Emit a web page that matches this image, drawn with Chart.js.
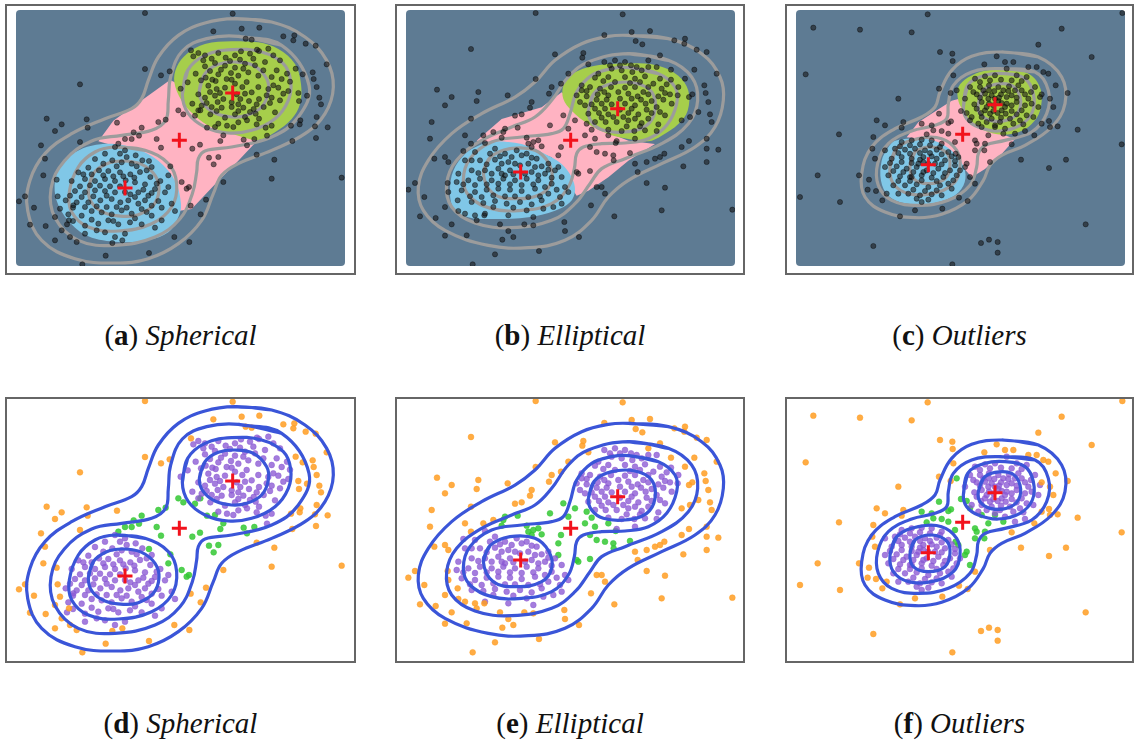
<!DOCTYPE html>
<html>
<head>
<meta charset="utf-8">
<script src="https://cdn.jsdelivr.net/npm/chart.js"></script>
<style>
    body { margin: 0; background: #fff; width: 1135px; height: 745px; position: relative; overflow: hidden; }
    .frame { position: absolute; border: 2px solid #666; box-sizing: border-box; }
    canvas { position: absolute; }
    .cap { position: absolute; width: 340px; text-align: center; font-family: "Liberation Serif", serif; font-size: 29px; line-height: 29px; color: #111; white-space: nowrap; }
</style>
</head>
<body>
<script>
// ---- spherical (a, d) ----
const sphCenters = [[6.83, 5.42], [5.23, 4.00], [3.60, 2.57]];
const sphOutliers = [[4.20,7.82],[6.83,7.80],[6.25,7.27],[7.10,7.35],[7.63,7.38],[7.22,7.05],[7.40,7.02],[8.35,7.12],[8.68,7.15],[8.65,7.00],[9.02,6.90],[9.32,6.84],[9.65,6.28],[8.72,6.15],[8.93,5.98],[9.23,6.04],[9.26,5.84],[9.35,5.60],[8.80,5.42],[9.06,5.34],[9.43,5.28],[9.48,5.08],[8.82,5.18],[9.35,4.70],[8.86,4.60],[8.84,4.48],[8.58,4.44],[9.30,4.42],[9.68,4.39],[9.33,4.07],[8.62,3.98],[7.55,3.57],[8.08,3.42],[8.00,2.85],[10.10,2.88],[6.55,2.75],[6.03,2.22],[5.87,1.78],[5.57,2.04],[5.53,0.95],[5.08,1.10],[4.32,0.62],[3.52,1.00],[3.22,0.92],[3.02,0.54],[2.32,0.28],[2.15,0.95],[1.50,1.00],[1.70,1.30],[1.22,1.43],[0.75,1.47],[0.87,1.98],[0.42,2.17],[0.60,2.32],[1.58,2.32],[1.65,1.95],[1.50,1.70],[1.55,2.82],[1.15,2.95],[1.20,3.45],[1.08,3.85],[1.50,4.28],[1.70,4.48],[1.25,4.65],[2.45,4.63],[2.48,4.38],[2.25,3.95],[2.25,5.68],[3.36,4.53],[4.20,6.14],[4.68,5.95],[4.94,6.07],[5.58,6.70],[1.92,1.60],[1.95,1.10]];
const sphUpper = [[5.65,6.52],[6.00,6.55],[6.40,6.62],[6.62,6.48],[6.90,6.55],[7.08,6.67],[7.35,6.60],[7.62,6.68],[7.90,6.75],[8.25,6.40],[7.80,6.35],[7.50,6.25],[7.20,6.30],[6.90,6.18],[6.60,6.24],[6.30,6.32],[6.00,6.22],[5.72,6.00],[6.02,5.88],[6.40,5.98],[6.65,5.84],[7.00,5.94],[7.30,6.04],[7.60,5.94],[8.00,5.90],[8.30,5.84],[8.46,6.00],[8.20,5.58],[7.90,5.54],[7.60,5.60],[7.40,5.44],[7.12,5.60],[6.90,5.70],[6.60,5.58],[6.35,5.54],[6.10,5.64],[5.80,5.38],[6.00,5.28],[6.30,5.34],[6.55,5.24],[6.80,5.14],[7.06,5.24],[7.32,5.18],[7.62,5.24],[8.00,5.28],[8.50,5.48],[5.90,5.04],[6.20,5.00],[6.50,4.98],[6.80,5.00],[7.15,4.98],[7.46,4.94],[7.76,5.00],[8.10,4.84],[6.60,4.68],[6.90,4.78],[7.20,4.70],[7.52,4.80],[6.40,4.50],[6.66,4.44],[7.00,4.54],[7.26,4.60],[7.82,4.38],[8.00,4.44],[7.86,4.14],[5.27,5.55],[5.48,5.74],[5.62,5.10],[5.80,4.90],[6.16,4.78],[6.32,5.78],[7.56,6.72],[5.80,6.62],[8.55,5.76],
    [5.95,6.40],[6.20,6.45],[6.75,6.38],[7.05,6.42],[7.45,6.45],[8.05,6.55],[6.15,6.08],[6.48,6.12],[6.78,6.02],[7.15,6.15],[7.75,6.10],[8.15,6.10],[5.88,5.80],[6.22,5.82],[6.80,5.82],[7.25,5.75],[8.05,5.65],[8.35,5.40],[6.15,5.45],[6.45,5.42],[6.95,5.38],[7.20,5.40],[7.85,5.35],[8.25,5.20],[6.05,5.12],[6.38,5.15],[7.00,5.08],[7.55,5.08],[7.95,5.12],[6.35,4.88],[7.00,4.88],[7.35,4.85],[7.62,4.65],[6.85,4.40],[7.55,4.48]];
const sphLower = [[3.30,3.80],[3.60,3.70],[3.92,3.55],[3.00,3.60],[2.70,3.44],[3.22,3.40],[3.50,3.34],[3.80,3.30],[4.12,3.40],[4.40,3.20],[2.50,3.18],[2.20,3.04],[2.82,3.10],[3.10,3.08],[3.45,3.04],[3.76,2.98],[4.05,3.05],[4.36,2.90],[4.66,2.78],[4.90,2.60],[2.00,2.78],[2.40,2.84],[2.70,2.78],[3.00,2.84],[3.30,2.78],[3.62,2.80],[3.90,2.74],[4.20,2.68],[4.50,2.54],[4.80,2.44],[2.10,2.48],[2.40,2.44],[2.70,2.50],[3.00,2.48],[3.30,2.44],[3.76,2.38],[4.00,2.44],[4.30,2.34],[4.60,2.18],[5.00,2.10],[1.82,2.20],[2.15,2.14],[2.50,2.14],[2.86,2.20],[3.20,2.24],[3.46,2.14],[3.70,2.20],[4.00,2.10],[4.40,2.04],[4.70,1.98],[5.10,1.88],[1.90,1.78],[2.30,1.74],[2.60,1.88],[2.90,1.84],[3.20,1.78],[3.50,1.90],[3.80,1.80],[4.10,1.94],[4.40,1.74],[4.70,1.60],[2.04,1.58],[2.40,1.44],[2.80,1.50],[3.10,1.60],[3.40,1.48],[3.75,1.54],[4.10,1.48],[4.50,1.38],[2.40,1.20],[3.30,1.10],[3.60,1.20],[3.00,1.24],[2.04,1.98],[1.86,1.48],[3.45,3.60],
    [2.95,3.30],[3.35,3.22],[3.65,3.50],[3.95,3.22],[4.25,3.10],[2.35,2.98],[2.60,2.98],[2.95,2.95],[3.25,2.92],[3.55,2.92],[3.88,2.88],[4.55,2.70],[2.25,2.62],[2.55,2.65],[2.85,2.64],[3.15,2.62],[3.45,2.62],[3.60,2.45],[4.15,2.52],[4.40,2.42],[1.95,2.34],[2.30,2.30],[2.65,2.32],[3.05,2.34],[3.90,2.30],[4.20,2.20],[2.05,2.05],[2.40,2.00],[2.75,2.02],[3.05,2.00],[3.35,2.00],[3.65,1.98],[4.25,1.85],[2.60,1.62],[3.25,1.58],[3.90,1.66],[2.75,1.30]];
const sphBridge = [[5.20,4.90],[5.35,4.78],[5.70,4.74],[5.86,4.90],[4.60,4.55],[4.82,4.62],[4.10,4.38],[3.86,4.24],[4.02,4.14],[3.60,4.04],[3.40,3.90],[3.80,4.04],[4.55,4.04],[4.68,3.78],[4.32,3.38],[4.90,2.95],[5.30,2.75],[5.45,2.55],[5.52,2.60],[5.62,3.75],[5.85,3.87],[6.12,3.48],[6.40,3.50],[6.26,3.28],[6.30,4.40],[6.55,4.15],[6.46,3.98],[6.06,4.38],[7.16,4.02],[7.26,3.85],[4.96,3.22],[7.48,4.04]];
const sphInnerU = [[5.83,5.50],[6.00,6.00],[6.40,6.28],[6.90,6.35],[7.45,6.25],[7.85,5.85],[7.90,5.45],[7.70,5.00],[7.25,4.75],[6.80,4.70],[6.30,4.82],[5.95,5.10]];
const sphMidU = [[5.32,5.38],[5.48,6.10],[6.00,6.55],[6.80,6.72],[7.70,6.65],[8.35,6.30],[8.57,5.78],[8.50,5.20],[8.10,4.65],[7.40,4.30],[6.70,4.22],[6.00,4.40],[5.50,4.80]];
const sphInnerL = [[2.50,2.52],[2.65,3.00],[3.05,3.30],[3.55,3.38],[4.10,3.28],[4.50,2.95],[4.62,2.52],[4.45,2.05],[4.00,1.77],[3.55,1.72],[3.00,1.82],[2.62,2.10]];
const sphMidL = [[3.30,3.80],[4.20,3.70],[4.90,3.30],[5.15,2.70],[5.00,2.00],[4.40,1.50],[3.40,1.28],[2.50,1.40],[2.00,1.85],[1.93,2.45],[2.20,3.20],[2.70,3.65]];
const sphWaist = [[7.00,7.12],[8.30,6.85],[9.12,5.65],[8.80,4.70],[8.00,4.10],[6.80,3.80],[6.00,3.68],[5.80,3.45],[5.75,3.05],[5.62,2.40],[5.25,1.65],[4.50,1.10],[3.30,0.85],[2.20,1.00],[1.50,1.68],[1.38,2.55],[1.78,3.38],[2.60,3.98],[3.50,4.15],[4.40,4.30],[4.82,4.60],[4.90,5.20],[4.97,5.90],[5.32,6.68],[6.05,7.05]];
const sphOuter = [[6.90,7.65],[8.00,7.55],[9.00,7.10],[9.65,6.40],[9.85,5.60],[9.60,4.80],[9.00,4.20],[8.00,3.70],[7.00,3.30],[6.50,2.95],[6.25,2.40],[5.90,1.60],[5.20,0.90],[4.30,0.45],[3.30,0.32],[2.10,0.45],[1.10,1.00],[0.68,1.90],[0.75,2.80],[1.20,3.60],[2.00,4.20],[3.00,4.65],[3.80,4.95],[4.10,5.25],[4.30,5.80],[4.60,6.50],[5.20,7.15],[6.00,7.52]];
const sphGreen = [[6.80,6.97],[7.60,6.94],[8.20,6.74],[8.70,6.29],[8.88,5.69],[8.85,5.09],[8.60,4.64],[8.10,4.24],[7.60,4.01],[7.00,4.14],[6.20,4.39],[5.70,4.74],[5.30,5.19],[5.08,5.74],[5.15,6.19],[5.45,6.59],[6.00,6.89]];
const sphBlue = [[3.30,3.89],[3.90,3.77],[4.60,3.39],[5.10,2.79],[5.28,2.09],[5.20,1.69],[4.90,1.24],[4.30,1.01],[3.40,0.95],[2.50,1.12],[1.90,1.59],[1.55,2.19],[1.50,2.79],[1.70,3.29],[2.10,3.64],[2.60,3.84]];
const sphPink = [[2.80,3.97],[3.25,4.59],[4.95,5.81],[5.20,5.69],[6.20,4.69],[7.55,3.97],[7.00,3.39],[6.40,2.79],[5.60,1.94],[5.25,1.89],[4.50,3.09],[3.80,3.69]];

// ---- elliptical (b, e) ----
const elpCenters = [[6.68, 4.95], [5.27, 4.00], [3.77, 3.05]];
const elpOutliers = [[4.22,7.82],[6.83,7.78],[2.28,6.74],[6.28,7.16],[7.10,7.25],[7.65,7.28],[7.22,6.98],[7.42,6.88],[8.38,7.00],[8.70,7.05],[8.68,6.90],[9.05,6.72],[9.35,6.65],[7.95,6.55],[7.60,6.40],[5.65,6.62],[5.62,6.48],[4.80,6.58],[5.80,6.28],[5.20,6.00],[4.70,5.60],[4.62,5.40],[4.98,5.70],[4.22,5.84],[3.38,5.35],[4.10,5.15],[4.05,4.98],[3.60,4.74],[3.80,4.78],[2.50,5.45],[1.70,5.30],[1.26,5.52],[1.50,5.05],[2.45,5.18],[2.28,4.65],[1.10,4.55],[2.95,4.25],[2.65,4.15],[2.10,4.15],[1.05,4.05],[2.28,3.90],[1.18,3.45],[1.50,3.50],[1.60,3.35],[0.40,2.52],[0.60,2.72],[1.58,2.72],[0.88,2.30],[1.60,2.45],[1.88,2.20],[1.50,2.00],[1.90,1.88],[2.10,1.80],[2.40,1.75],[2.45,1.60],[0.75,1.72],[1.22,1.67],[1.70,1.48],[2.15,1.15],[1.50,1.14],[2.68,1.75],[3.15,1.48],[3.40,1.28],[3.55,1.10],[3.22,1.02],[3.88,1.48],[4.15,1.45],[3.00,0.58],[2.33,0.28],[4.32,0.68],[5.10,1.28],[5.52,1.10],[5.08,1.55],[5.88,2.05],[6.05,2.60],[6.20,2.60],[6.30,2.40],[6.58,1.72],[7.28,3.05],[7.55,2.72],[8.10,2.58],[8.00,1.90],[10.12,1.92],[7.20,3.30],[7.55,3.35],[7.80,3.45],[8.08,3.60],[8.65,3.22],[9.35,3.35],[8.60,3.80],[8.82,3.98],[9.35,3.75],[9.70,3.72],[9.35,4.05],[8.60,4.60],[8.85,4.70],[9.45,4.78],[9.50,4.55],[9.10,4.85],[9.40,5.15],[9.28,5.65],[9.32,5.42],[9.65,6.00],[8.70,5.85],[8.98,6.12],[8.28,6.12],[8.82,5.30],[8.92,5.38],[7.95,3.50]];
const elpUpper = [[6.28,6.35],[6.60,6.40],[6.90,6.35],[6.50,6.15],[6.80,6.10],[7.12,6.05],[7.40,6.10],[7.85,6.20],[6.10,6.00],[6.00,5.88],[6.40,5.90],[6.90,5.90],[7.20,5.85],[7.50,5.92],[7.95,5.85],[8.28,5.82],[5.60,5.65],[5.85,5.60],[6.15,5.55],[6.48,5.60],[6.90,5.58],[7.20,5.60],[7.60,5.60],[8.00,5.55],[8.50,5.60],[5.45,5.35],[5.75,5.32],[6.08,5.38],[6.40,5.35],[7.00,5.40],[7.28,5.32],[7.60,5.38],[7.90,5.32],[8.25,5.38],[5.90,5.08],[6.20,5.10],[6.50,5.08],[6.90,5.10],[7.20,5.05],[7.52,5.10],[7.85,5.00],[8.30,5.10],[5.80,4.80],[6.12,4.82],[6.40,4.78],[7.00,4.82],[7.30,4.78],[7.70,4.82],[8.10,4.75],[6.00,4.55],[6.32,4.55],[6.65,4.55],[7.00,4.60],[7.40,4.52],[7.90,4.48],[6.40,4.32],[6.80,4.28],[7.18,4.28],[7.50,4.30],[7.85,4.28],[6.65,3.98],[7.20,4.05],[5.55,5.15],[5.60,5.50],[8.48,5.35],[7.08,6.25],
    [6.45,6.25],[6.75,6.25],[7.25,6.20],[7.60,6.20],[6.25,5.78],[6.60,5.75],[7.05,5.72],[7.35,5.75],[7.75,5.70],[8.15,5.68],[5.75,5.48],[6.28,5.45],[6.70,5.45],[7.10,5.25],[7.45,5.45],[8.10,5.42],[5.70,5.05],[6.05,5.22],[6.35,5.22],[6.75,5.25],[7.38,5.22],[7.70,5.18],[8.05,5.22],[6.00,4.95],[6.30,4.95],[6.75,4.92],[7.10,4.95],[7.55,4.92],[7.95,4.85],[6.20,4.68],[6.55,4.70],[6.85,4.70],[7.20,4.65],[7.60,4.65],[6.95,4.42],[7.35,4.42]];
const elpLower = [[2.70,3.92],[3.00,3.75],[3.30,3.60],[3.65,3.70],[3.95,3.60],[4.25,3.45],[4.60,3.30],[2.40,3.65],[2.10,3.40],[2.55,3.40],[3.00,3.42],[3.40,3.35],[4.00,3.30],[4.40,3.22],[4.80,3.10],[2.30,3.10],[2.70,3.10],[3.10,3.15],[3.45,3.10],[4.10,3.05],[4.50,3.00],[5.00,2.90],[1.85,2.75],[2.20,2.80],[2.55,2.85],[2.90,2.80],[3.25,2.85],[3.60,2.80],[3.95,2.85],[4.30,2.80],[4.70,2.70],[5.10,2.60],[2.00,2.50],[2.40,2.45],[2.75,2.52],[3.10,2.55],[3.45,2.52],[3.80,2.48],[4.20,2.55],[4.60,2.40],[4.95,2.30],[2.30,2.15],[2.65,2.12],[3.00,2.18],[3.35,2.10],[3.75,2.15],[4.10,2.08],[4.45,1.95],[4.75,2.00],[2.70,1.80],[3.40,1.75],[4.15,1.70],[5.00,2.10],[5.20,2.45],[1.90,3.00],[2.05,3.68],[4.40,2.20],[3.60,3.30],[3.90,3.00],[3.30,2.95],
    [2.85,3.60],[3.15,3.52],[3.50,3.50],[3.80,3.55],[4.10,3.48],[2.30,3.40],[2.75,3.28],[3.20,3.30],[3.75,3.25],[4.20,3.20],[4.60,3.12],[2.50,3.02],[2.90,3.00],[3.20,3.00],[3.55,2.98],[4.30,2.95],[4.70,2.88],[2.05,2.68],[2.40,2.66],[2.75,2.68],[3.10,2.70],[3.45,2.68],[3.80,2.66],[4.15,2.68],[4.50,2.60],[4.85,2.52],[2.25,2.32],[2.60,2.30],[2.95,2.35],[3.30,2.32],[3.60,2.32],[4.00,2.30],[4.35,2.32],[2.95,2.00],[3.55,1.98],[3.95,1.90]];
const elpBridge = [[3.30,4.35],[3.25,4.25],[3.20,4.08],[3.68,4.38],[3.95,4.08],[4.00,3.90],[4.15,3.95],[4.30,4.00],[4.10,3.80],[4.40,3.82],[4.65,4.45],[4.98,3.80],[4.90,3.55],[5.05,4.75],[5.40,4.60],[5.20,4.35],[5.75,4.50],[5.90,4.32],[5.70,4.15],[6.00,4.05],[6.05,3.65],[6.30,3.60],[6.55,3.55],[6.62,3.92],[7.05,3.62],[6.56,3.40],[5.45,3.05],[5.50,3.00],[5.85,3.08],[6.40,4.15],[4.90,3.20],[5.85,3.80]];
const elpInnerU = [[5.80,4.90],[5.98,5.42],[6.50,5.70],[7.20,5.72],[7.70,5.45],[7.80,4.90],[7.55,4.45],[6.90,4.25],[6.25,4.30],[5.90,4.55]];
const elpInnerL = [[2.65,3.00],[2.85,3.48],[3.45,3.75],[4.20,3.70],[4.62,3.30],[4.70,2.80],[4.40,2.40],[3.65,2.25],[2.95,2.40]];
const elpWaist = [[7.00,6.18],[7.90,6.00],[8.40,5.60],[8.45,5.10],[8.15,4.45],[7.60,4.05],[6.90,3.92],[6.20,3.90],[5.65,3.80],[5.45,3.60],[5.38,3.15],[5.20,2.60],[4.70,2.10],[3.80,1.90],[2.90,1.95],[2.25,2.30],[2.05,2.80],[2.25,3.45],[2.90,3.95],[3.80,4.10],[4.70,4.20],[5.05,4.35],[5.25,4.80],[5.45,5.45],[5.90,5.95],[6.50,6.15]];
const elpMid = [[7.00,6.60],[8.20,6.40],[8.90,5.90],[9.08,5.20],[8.80,4.50],[8.00,3.90],[6.90,3.45],[6.20,3.15],[5.85,2.70],[5.40,2.10],[4.70,1.60],[3.50,1.38],[2.40,1.52],[1.70,2.00],[1.55,2.70],[1.85,3.40],[2.60,4.00],[3.50,4.40],[4.20,4.70],[4.70,5.20],[5.20,5.90],[5.80,6.35]];
const elpOuter = [[7.00,7.15],[8.20,7.05],[9.20,6.60],[9.75,5.90],[9.85,5.20],[9.60,4.40],[9.00,3.80],[8.00,3.30],[7.00,2.80],[6.40,2.30],[5.90,1.60],[5.10,1.00],[4.00,0.78],[2.80,0.85],[1.50,1.30],[0.85,1.90],[0.70,2.60],[1.00,3.40],[1.70,4.20],[2.60,4.80],[3.60,5.30],[4.20,5.75],[4.80,6.40],[5.60,6.90],[6.40,7.12]];
const elpGreen = [[6.00,6.24],[7.00,6.31],[7.90,6.24],[8.50,5.94],[8.80,5.49],[8.78,4.89],[8.50,4.49],[8.00,4.14],[7.60,3.97],[7.00,4.04],[6.40,4.19],[5.80,4.49],[5.30,4.89],[5.05,5.24],[5.05,5.64],[5.30,5.99]];
const elpBlue = [[3.00,3.97],[3.80,3.89],[4.50,3.59],[5.00,3.29],[5.30,2.89],[5.40,2.49],[5.25,2.14],[4.80,1.89],[4.00,1.69],[3.00,1.64],[2.20,1.69],[1.75,1.99],[1.65,2.49],[1.75,3.09],[2.10,3.59],[2.50,3.84]];
const elpPink = [[2.45,3.99],[3.20,4.64],[4.40,4.99],[5.00,5.44],[5.20,5.29],[6.00,4.39],[7.00,3.99],[7.80,3.89],[7.00,3.39],[6.40,2.89],[5.80,2.49],[5.45,2.34],[4.70,3.49],[3.60,3.89]];

// ---- outliers (c, f) ----
const outCenters = [[6.30, 5.07], [5.33, 4.18], [4.30, 3.27]];
const outOutliers = [[0.85,7.38],[2.25,7.32],[3.80,7.24],[4.28,7.78],[10.12,7.82],[8.30,7.35],[7.60,6.87],[9.20,6.50],[0.62,5.98],[4.65,6.65],[5.02,6.60],[5.03,6.38],[5.05,5.95],[4.62,5.55],[3.40,5.25],[4.97,5.42],[5.98,6.28],[6.35,6.52],[6.60,6.35],[6.85,6.35],[7.30,6.20],[7.55,6.20],[7.75,6.05],[7.90,6.00],[8.12,5.65],[7.70,5.38],[7.95,5.25],[8.05,5.00],[8.48,5.42],[7.92,4.58],[7.95,4.40],[7.70,4.50],[8.18,4.42],[7.48,4.15],[8.78,4.32],[6.80,3.88],[7.08,3.42],[6.15,3.35],[7.92,3.17],[8.43,3.42],[10.10,3.88],[1.62,4.18],[2.75,4.60],[3.00,4.45],[3.55,4.55],[3.50,4.38],[2.65,4.10],[2.62,3.75],[2.70,3.45],[0.98,2.95],[2.22,2.95],[2.52,2.82],[2.73,2.48],[2.48,2.52],[0.45,2.30],[1.65,2.15],[2.92,2.20],[3.45,1.72],[3.90,1.90],[4.72,1.95],[5.22,2.28],[5.48,2.18],[5.70,2.70],[9.02,1.48],[2.65,0.83],[5.88,0.92],[6.12,1.02],[6.38,0.95],[6.38,0.63],[5.02,0.28],[3.05,2.40]];
const outUpper = [[5.70,5.85],[6.00,5.92],[6.30,5.95],[6.65,6.15],[6.95,5.95],[7.25,5.90],[5.55,5.60],[5.85,5.60],[6.12,5.65],[6.40,5.60],[6.72,5.62],[7.00,5.65],[7.50,5.60],[5.75,5.38],[6.00,5.40],[6.20,5.35],[6.48,5.38],[6.80,5.35],[7.20,5.38],[5.90,5.15],[6.12,5.10],[6.40,5.18],[6.65,5.10],[6.95,5.15],[7.40,5.10],[7.60,5.00],[5.75,4.95],[6.00,4.90],[6.25,4.88],[6.50,4.90],[6.80,4.88],[7.10,4.90],[5.90,4.70],[6.20,4.65],[6.48,4.68],[6.75,4.65],[7.05,4.60],[5.60,4.70],[6.30,4.45],[6.60,4.35],[6.90,4.20],[7.20,4.28],[7.45,4.70],[7.65,5.30],[5.40,5.25],[6.12,5.50],[6.55,5.50],[6.30,5.25],[6.05,5.00],[6.60,5.00],[6.38,4.82],[6.90,5.50],[5.80,4.50],
    [5.85,5.75],[6.15,5.80],[6.48,5.82],[6.80,5.80],[7.10,5.78],[5.65,5.45],[5.95,5.50],[6.28,5.48],[6.70,5.48],[7.10,5.50],[7.38,5.45],[5.85,5.28],[6.10,5.25],[6.42,5.28],[6.65,5.30],[6.95,5.28],[7.30,5.25],[5.68,5.08],[6.25,5.05],[6.50,5.12],[6.80,5.05],[7.20,5.05],[5.88,4.82],[6.15,4.80],[6.62,4.80],[6.95,4.78],[7.25,4.75],[6.05,4.55],[6.45,4.55],[6.85,4.50],[7.15,4.48]];
const outLower = [[3.50,3.95],[3.80,4.00],[4.10,4.02],[4.40,4.00],[4.70,3.90],[3.30,3.75],[3.60,3.72],[3.90,3.75],[4.20,3.70],[4.55,3.72],[4.90,3.65],[3.20,3.45],[3.50,3.50],[3.80,3.45],[4.05,3.42],[4.55,3.45],[4.80,3.40],[5.10,3.38],[3.00,3.20],[3.35,3.22],[3.65,3.15],[3.95,3.20],[4.25,3.10],[4.60,3.15],[4.95,3.10],[5.25,3.10],[3.10,2.95],[3.45,2.92],[3.75,2.90],[4.10,2.95],[4.40,2.88],[4.75,2.90],[5.05,2.80],[3.25,2.65],[3.60,2.65],[3.95,2.68],[4.30,2.60],[4.65,2.65],[5.00,2.55],[3.70,2.40],[4.05,2.35],[4.40,2.38],[4.70,2.35],[4.10,2.15],[4.30,3.30],[4.00,3.30],[4.50,3.30],[4.15,3.50],[4.40,3.52],[3.80,2.90],[3.00,3.70],[3.40,2.40],
    [3.45,3.82],[3.75,3.85],[4.05,3.88],[4.35,3.85],[4.65,3.80],[3.40,3.62],[3.75,3.60],[4.05,3.62],[4.35,3.62],[4.70,3.58],[5.00,3.52],[3.15,3.32],[3.50,3.35],[3.80,3.32],[4.15,3.35],[4.70,3.28],[5.10,3.25],[3.25,3.08],[3.55,3.05],[3.85,3.05],[4.15,3.05],[4.45,3.02],[4.80,3.02],[5.15,2.95],[3.40,2.78],[3.75,2.78],[4.10,2.80],[4.55,2.78],[4.90,2.70],[3.85,2.52],[4.20,2.48],[4.55,2.50],[3.95,2.25],[4.30,2.22]];
const outBridge = [[4.10,4.50],[4.40,4.45],[4.25,4.18],[4.45,4.30],[4.70,4.28],[4.90,4.52],[4.98,4.57],[5.15,5.50],[5.28,4.88],[5.45,4.82],[5.55,4.60],[4.90,4.20],[5.10,3.95],[5.70,4.00],[5.75,3.90],[5.70,3.70],[5.98,3.70],[6.00,3.90],[6.10,4.15],[5.90,4.40],[6.30,4.40],[6.55,4.20],[5.12,3.60],[5.20,3.50],[5.45,3.30],[5.40,3.20],[5.55,2.90],[4.62,4.80]];
const outInnerU = [[5.80,5.10],[5.95,5.50],[6.30,5.68],[6.80,5.65],[7.05,5.30],[7.00,4.85],[6.65,4.60],[6.15,4.60],[5.85,4.80]];
const outMidU = [[5.35,5.00],[5.48,5.65],[6.00,5.95],[6.60,6.00],[7.20,5.85],[7.45,5.40],[7.42,4.85],[7.05,4.45],[6.40,4.28],[5.80,4.40],[5.45,4.65]];
const outInnerL = [[3.75,3.25],[3.90,3.65],[4.40,3.80],[4.85,3.62],[4.95,3.25],[4.80,2.85],[4.30,2.70],[3.85,2.85]];
const outMidL = [[3.15,3.20],[3.35,3.75],[4.00,4.05],[4.70,4.05],[5.15,3.70],[5.25,3.20],[5.05,2.70],[4.40,2.40],[3.70,2.40],[3.25,2.70]];
const outWaist = [[6.40,6.15],[7.50,6.05],[7.90,5.50],[7.85,4.80],[7.40,4.25],[6.60,4.00],[6.00,3.85],[5.80,3.60],[5.75,3.20],[5.55,2.65],[4.90,2.20],[4.00,2.05],[3.20,2.20],[2.80,2.65],[2.78,3.30],[3.10,3.90],[3.80,4.28],[4.50,4.45],[4.85,4.65],[4.90,5.10],[5.05,5.65],[5.60,6.05]];
const outOuter = [[6.50,6.65],[7.60,6.50],[8.30,5.90],[8.40,5.10],[8.00,4.40],[7.20,3.85],[6.50,3.55],[6.15,3.25],[5.95,2.80],[5.50,2.20],[4.70,1.78],[3.90,1.68],[3.00,1.85],[2.40,2.30],[2.30,3.00],[2.60,3.80],[3.30,4.35],[4.10,4.70],[4.50,5.00],[4.65,5.45],[5.00,6.10],[5.60,6.52]];
const outGreen = [[6.00,6.09],[6.80,6.14],[7.40,5.94],[7.68,5.49],[7.65,4.89],[7.40,4.49],[7.00,4.24],[6.50,4.17],[6.00,4.29],[5.60,4.54],[5.35,4.89],[5.20,5.19],[5.20,5.59],[5.50,5.89]];
const outBlue = [[3.30,3.99],[4.00,4.07],[4.60,3.94],[5.10,3.59],[5.40,3.09],[5.35,2.64],[5.00,2.29],[4.30,2.09],[3.60,2.11],[3.10,2.34],[2.88,2.79],[2.90,3.39],[3.10,3.79]];
const outPink = [[3.65,4.09],[4.00,4.54],[5.00,5.19],[5.20,5.24],[5.80,4.59],[6.50,4.19],[6.90,4.04],[6.50,3.59],[6.00,3.14],[5.60,2.89],[5.00,3.59],[4.20,4.04]];

const captionLetters = ['a', 'b', 'c', 'd', 'e', 'f'];
const captionNames = ['Spherical', 'Elliptical', 'Outliers', 'Spherical', 'Elliptical', 'Outliers'];

const sets = [
    { centers: sphCenters, outliers: sphOutliers, upper: sphUpper, lower: sphLower, bridge: sphBridge,
      contours: [sphInnerU, sphMidU, sphInnerL, sphMidL, sphWaist, sphOuter], green: sphGreen, blue: sphBlue, pink: sphPink },
    { centers: elpCenters, outliers: elpOutliers, upper: elpUpper, lower: elpLower, bridge: elpBridge,
      contours: [elpInnerU, elpInnerL, elpWaist, elpMid, elpOuter], green: elpGreen, blue: elpBlue, pink: elpPink },
    { centers: outCenters, outliers: outOutliers, upper: outUpper, lower: outLower, bridge: outBridge,
      contours: [outInnerU, outMidU, outInnerL, outMidL, outWaist, outOuter], green: outGreen, blue: outBlue, pink: outPink }
];

// page layout: column origins and the y where data 0 falls in each row
const colX = [5, 395, 785];
const colW = [351, 350, 349];
const rowBase = [273.67, 661.67];
const PX = 100 / 3;

function xy(pts) { return pts.map(p => ({ x: p[0], y: p[1] })); }
function loop(pts) { return xy(pts.concat([pts[0], pts[1]])); }

const slateBg = {
    id: 'slateBg',
    beforeDraw(chart) {
        const a = chart.chartArea, ctx = chart.ctx;
        ctx.save();
        ctx.fillStyle = '#5e7b93';
        ctx.beginPath();
        ctx.roundRect(a.left, a.top, a.right - a.left, a.bottom - a.top, 4);
        ctx.fill();
        ctx.restore();
    }
};

function region(pts, color, tension, order) {
    return { data: loop(pts), showLine: true, fill: 'shape', backgroundColor: color, borderWidth: 0,
             borderColor: color, pointRadius: 0, tension: tension, order: order };
}

function scatter(pts, color, edge, r, order) {
    return { data: xy(pts), showLine: false, pointRadius: r, pointBackgroundColor: color,
             pointBorderColor: edge, pointBorderWidth: 0.6, order: order };
}

function createPanel(row, col) {
    const d = sets[col];
    const x0 = colX[col], base = rowBase[row];
    let rect;
    if (row == 0) {
        rect = { left: x0 + 11, top: 10, w: 329, h: 256 };
    } else {
        rect = { left: x0 + 2, top: 399, w: colW[col] - 4, h: 262 };
    }

    const frame = document.createElement('div');
    frame.className = 'frame';
    frame.style.left = x0 + 'px';
    frame.style.width = colW[col] + 'px';
    frame.style.top = (row == 0 ? 4 : 397) + 'px';
    frame.style.height = (row == 0 ? 271 : 266) + 'px';
    document.body.appendChild(frame);

    const cv = document.createElement('canvas');
    cv.width = rect.w; cv.height = rect.h;
    cv.style.left = rect.left + 'px'; cv.style.top = rect.top + 'px';
    document.body.appendChild(cv);

    let datasets = [];
    const cross = { data: xy(d.centers), showLine: false, pointStyle: 'cross', pointRadius: 7.5,
                    pointBorderWidth: 3, pointBorderColor: '#f2121c', order: 0 };
    datasets.push(cross);

    if (row == 0) {
        const all = d.outliers.concat(d.upper, d.lower, d.bridge);
        datasets.push(scatter(all, 'rgba(20,20,20,0.58)', 'rgba(0,0,0,0.6)', 2.6, 1));
        d.contours.forEach(c => datasets.push({ data: loop(c), showLine: true, borderColor: '#9c9c9c',
            borderWidth: 3.2, pointRadius: 0, tension: 0.4, fill: false, order: 3 }));
        datasets.push(region(d.green, '#a6ce4b', 0.35, 6));
        datasets.push(region(d.blue, '#80c7e7', 0.35, 6));
        datasets.push(region(d.pink, '#ffb3c2', 0, 7));
    } else {
        d.contours.forEach(c => datasets.push({ data: loop(c), showLine: true, borderColor: '#3a55d8',
            borderWidth: 3.2, pointRadius: 0, tension: 0.4, fill: false, order: 2 }));
        datasets.push(scatter(d.outliers, 'rgba(255,158,35,0.85)', 'rgba(255,158,35,0.85)', 2.9, 4));
        datasets.push(scatter(d.upper, 'rgba(138,88,212,0.78)', 'rgba(138,88,212,0.78)', 2.9, 4));
        datasets.push(scatter(d.lower, 'rgba(138,88,212,0.78)', 'rgba(138,88,212,0.78)', 2.9, 4));
        datasets.push(scatter(d.bridge, 'rgba(52,200,52,0.85)', 'rgba(52,200,52,0.85)', 2.9, 4));
    }

    new Chart(cv.getContext('2d'), {
        type: 'scatter',
        data: { datasets: datasets },
        options: {
            responsive: false,
            animation: false,
            events: [],
            layout: { padding: 0, autoPadding: false },
            plugins: { legend: { display: false }, tooltip: { enabled: false } },
            scales: {
                x: { type: 'linear', display: false, min: (rect.left - x0) / PX, max: (rect.left + rect.w - x0) / PX },
                y: { type: 'linear', display: false, min: (base - rect.top - rect.h) / PX, max: (base - rect.top) / PX }
            }
        },
        plugins: row == 0 ? [slateBg] : []
    });

    const cap = document.createElement('div');
    cap.className = 'cap';
    const i = row * 3 + col;
    cap.innerHTML = '(<b>' + captionLetters[i] + '</b>) <i>' + captionNames[i] + '</i>';
    cap.style.left = (x0 + colW[col] / 2 - 170) + 'px';
    cap.style.top = (row == 0 ? 321 : 709) + 'px';
    document.body.appendChild(cap);
}

for (let row = 0; row < 2; row++) {
    for (let col = 0; col < 3; col++) {
        createPanel(row, col);
    }
}
</script>
</body>
</html>
